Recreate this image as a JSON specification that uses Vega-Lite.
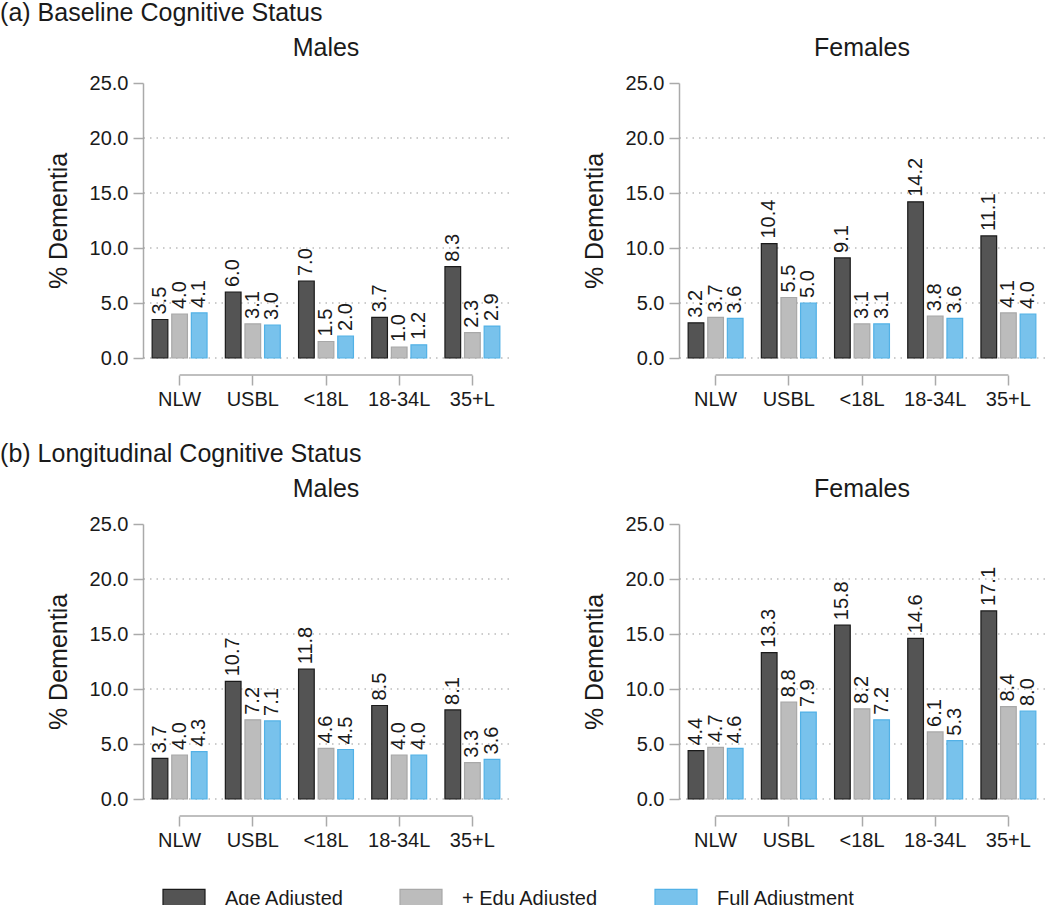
{
  "$schema": "https://vega.github.io/schema/vega-lite/v6.json",
  "padding": {"top": 1, "left": 0, "right": 0, "bottom": 0},
  "config": {
    "font": "Liberation Sans",
    "view": {"stroke": null},
    "axis": {"labelFontSize": 20, "labelColor": "#1a1a1a", "titleFontSize": 25, "titleFontWeight": "normal", "titleColor": "#1a1a1a", "domainColor": "#aaaaaa", "tickColor": "#aaaaaa", "grid": false, "domainWidth": 1.5, "tickWidth": 1.5},
    "title": {"fontSize": 25, "fontWeight": "normal", "color": "#1a1a1a"},
    "legend": {"title": null, "orient": "bottom", "offset": 37, "direction": "horizontal", "symbolType": "M-2,-0.9H2V0.9H-2Z", "symbolSize": 441, "symbolOffset": 29.5, "labelFontSize": 20, "labelColor": "#1a1a1a", "labelOffset": 29.5, "columnPadding": 36, "symbolStrokeWidth": 1.2, "padding": 0}
  },
  "datasets": {
    "grid": [{"g": 0}, {"g": 5}, {"g": 10}, {"g": 15}, {"g": 20}],
    "xline": [{"from": "NLW", "to": "35+L"}],
    "d": [
      {"section": "a", "sex": "Males", "group": "NLW", "adj": "Age Adjusted", "value": 3.5},
      {"section": "a", "sex": "Males", "group": "NLW", "adj": "+ Edu Adjusted", "value": 4.0},
      {"section": "a", "sex": "Males", "group": "NLW", "adj": "Full Adjustment", "value": 4.1},
      {"section": "a", "sex": "Males", "group": "USBL", "adj": "Age Adjusted", "value": 6.0},
      {"section": "a", "sex": "Males", "group": "USBL", "adj": "+ Edu Adjusted", "value": 3.1},
      {"section": "a", "sex": "Males", "group": "USBL", "adj": "Full Adjustment", "value": 3.0},
      {"section": "a", "sex": "Males", "group": "<18L", "adj": "Age Adjusted", "value": 7.0},
      {"section": "a", "sex": "Males", "group": "<18L", "adj": "+ Edu Adjusted", "value": 1.5},
      {"section": "a", "sex": "Males", "group": "<18L", "adj": "Full Adjustment", "value": 2.0},
      {"section": "a", "sex": "Males", "group": "18-34L", "adj": "Age Adjusted", "value": 3.7},
      {"section": "a", "sex": "Males", "group": "18-34L", "adj": "+ Edu Adjusted", "value": 1.0},
      {"section": "a", "sex": "Males", "group": "18-34L", "adj": "Full Adjustment", "value": 1.2},
      {"section": "a", "sex": "Males", "group": "35+L", "adj": "Age Adjusted", "value": 8.3},
      {"section": "a", "sex": "Males", "group": "35+L", "adj": "+ Edu Adjusted", "value": 2.3},
      {"section": "a", "sex": "Males", "group": "35+L", "adj": "Full Adjustment", "value": 2.9},
      {"section": "a", "sex": "Females", "group": "NLW", "adj": "Age Adjusted", "value": 3.2},
      {"section": "a", "sex": "Females", "group": "NLW", "adj": "+ Edu Adjusted", "value": 3.7},
      {"section": "a", "sex": "Females", "group": "NLW", "adj": "Full Adjustment", "value": 3.6},
      {"section": "a", "sex": "Females", "group": "USBL", "adj": "Age Adjusted", "value": 10.4},
      {"section": "a", "sex": "Females", "group": "USBL", "adj": "+ Edu Adjusted", "value": 5.5},
      {"section": "a", "sex": "Females", "group": "USBL", "adj": "Full Adjustment", "value": 5.0},
      {"section": "a", "sex": "Females", "group": "<18L", "adj": "Age Adjusted", "value": 9.1},
      {"section": "a", "sex": "Females", "group": "<18L", "adj": "+ Edu Adjusted", "value": 3.1},
      {"section": "a", "sex": "Females", "group": "<18L", "adj": "Full Adjustment", "value": 3.1},
      {"section": "a", "sex": "Females", "group": "18-34L", "adj": "Age Adjusted", "value": 14.2},
      {"section": "a", "sex": "Females", "group": "18-34L", "adj": "+ Edu Adjusted", "value": 3.8},
      {"section": "a", "sex": "Females", "group": "18-34L", "adj": "Full Adjustment", "value": 3.6},
      {"section": "a", "sex": "Females", "group": "35+L", "adj": "Age Adjusted", "value": 11.1},
      {"section": "a", "sex": "Females", "group": "35+L", "adj": "+ Edu Adjusted", "value": 4.1},
      {"section": "a", "sex": "Females", "group": "35+L", "adj": "Full Adjustment", "value": 4.0},
      {"section": "b", "sex": "Males", "group": "NLW", "adj": "Age Adjusted", "value": 3.7},
      {"section": "b", "sex": "Males", "group": "NLW", "adj": "+ Edu Adjusted", "value": 4.0},
      {"section": "b", "sex": "Males", "group": "NLW", "adj": "Full Adjustment", "value": 4.3},
      {"section": "b", "sex": "Males", "group": "USBL", "adj": "Age Adjusted", "value": 10.7},
      {"section": "b", "sex": "Males", "group": "USBL", "adj": "+ Edu Adjusted", "value": 7.2},
      {"section": "b", "sex": "Males", "group": "USBL", "adj": "Full Adjustment", "value": 7.1},
      {"section": "b", "sex": "Males", "group": "<18L", "adj": "Age Adjusted", "value": 11.8},
      {"section": "b", "sex": "Males", "group": "<18L", "adj": "+ Edu Adjusted", "value": 4.6},
      {"section": "b", "sex": "Males", "group": "<18L", "adj": "Full Adjustment", "value": 4.5},
      {"section": "b", "sex": "Males", "group": "18-34L", "adj": "Age Adjusted", "value": 8.5},
      {"section": "b", "sex": "Males", "group": "18-34L", "adj": "+ Edu Adjusted", "value": 4.0},
      {"section": "b", "sex": "Males", "group": "18-34L", "adj": "Full Adjustment", "value": 4.0},
      {"section": "b", "sex": "Males", "group": "35+L", "adj": "Age Adjusted", "value": 8.1},
      {"section": "b", "sex": "Males", "group": "35+L", "adj": "+ Edu Adjusted", "value": 3.3},
      {"section": "b", "sex": "Males", "group": "35+L", "adj": "Full Adjustment", "value": 3.6},
      {"section": "b", "sex": "Females", "group": "NLW", "adj": "Age Adjusted", "value": 4.4},
      {"section": "b", "sex": "Females", "group": "NLW", "adj": "+ Edu Adjusted", "value": 4.7},
      {"section": "b", "sex": "Females", "group": "NLW", "adj": "Full Adjustment", "value": 4.6},
      {"section": "b", "sex": "Females", "group": "USBL", "adj": "Age Adjusted", "value": 13.3},
      {"section": "b", "sex": "Females", "group": "USBL", "adj": "+ Edu Adjusted", "value": 8.8},
      {"section": "b", "sex": "Females", "group": "USBL", "adj": "Full Adjustment", "value": 7.9},
      {"section": "b", "sex": "Females", "group": "<18L", "adj": "Age Adjusted", "value": 15.8},
      {"section": "b", "sex": "Females", "group": "<18L", "adj": "+ Edu Adjusted", "value": 8.2},
      {"section": "b", "sex": "Females", "group": "<18L", "adj": "Full Adjustment", "value": 7.2},
      {"section": "b", "sex": "Females", "group": "18-34L", "adj": "Age Adjusted", "value": 14.6},
      {"section": "b", "sex": "Females", "group": "18-34L", "adj": "+ Edu Adjusted", "value": 6.1},
      {"section": "b", "sex": "Females", "group": "18-34L", "adj": "Full Adjustment", "value": 5.3},
      {"section": "b", "sex": "Females", "group": "35+L", "adj": "Age Adjusted", "value": 17.1},
      {"section": "b", "sex": "Females", "group": "35+L", "adj": "+ Edu Adjusted", "value": 8.4},
      {"section": "b", "sex": "Females", "group": "35+L", "adj": "Full Adjustment", "value": 8.0}
    ]
  },
  "spacing": 33,
  "vconcat": [
    {
      "title": {"text": "(a) Baseline Cognitive Status", "anchor": "start", "dx": -46, "offset": 10},
      "spacing": 72,
      "hconcat": [
        {
          "width": 366, "height": 275,
          "title": {"text": "Males", "offset": 12},
          "layer": [
            {"data": {"name": "grid"}, "mark": {"type": "rule", "strokeDash": [1.5, 5], "color": "#999999", "strokeWidth": 1.2},
             "encoding": {"y": {"field": "g", "type": "quantitative", "scale": {"domain": [0, 25], "padding": 0}, "axis": {"title": "% Dementia", "values": [0, 5, 10, 15, 20, 25], "format": ".1f", "tickSize": 10, "labelPadding": 5, "titlePadding": 18}}}},
            {"data": {"name": "d"}, "transform": [{"filter": "datum.section == 'a' && datum.sex == 'Males'"}],
             "mark": {"type": "bar", "strokeWidth": 1.2},
             "encoding": {
               "x": {"field": "group", "type": "nominal", "scale": {"domain": ["NLW", "USBL", "<18L", "18-34L", "35+L"], "paddingInner": 0.25, "paddingOuter": 0.125}, "axis": {"title": null, "labelAngle": 0, "domain": false, "offset": 17, "tickSize": 10, "labelPadding": 4}},
               "xOffset": {"field": "adj", "type": "nominal", "scale": {"domain": ["Age Adjusted", "+ Edu Adjusted", "Full Adjustment"], "paddingInner": 0.2}},
               "y": {"field": "value", "type": "quantitative", "title": "% Dementia", "scale": {"domain": [0, 25], "padding": 0}},
               "fill": {"field": "adj", "type": "nominal", "scale": {"domain": ["Age Adjusted", "+ Edu Adjusted", "Full Adjustment"], "range": ["#545454", "#bcbcbc", "#78c2ec"]}},
               "stroke": {"field": "adj", "type": "nominal", "scale": {"domain": ["Age Adjusted", "+ Edu Adjusted", "Full Adjustment"], "range": ["#1a1a1a", "#a8a8a8", "#52b1e6"]}}
             }},
            {"data": {"name": "d"}, "transform": [{"filter": "datum.section == 'a' && datum.sex == 'Males'"}],
             "mark": {"type": "text", "angle": 270, "align": "left", "baseline": "middle", "dx": 5, "fontSize": 20, "color": "#1a1a1a"},
             "encoding": {
               "x": {"field": "group", "type": "nominal"},
               "xOffset": {"field": "adj", "type": "nominal"},
               "y": {"field": "value", "type": "quantitative", "title": "% Dementia", "scale": {"domain": [0, 25], "padding": 0}},
               "text": {"field": "value", "type": "quantitative", "format": ".1f"}
             }},
            {"data": {"name": "xline"}, "mark": {"type": "rule", "color": "#aaaaaa", "strokeWidth": 1.5},
             "encoding": {
               "x": {"field": "from", "type": "nominal", "scale": {"domain": ["NLW", "USBL", "<18L", "18-34L", "35+L"]}},
               "x2": {"field": "to"},
               "y": {"datum": -1.55, "type": "quantitative", "title": "% Dementia", "scale": {"domain": [0, 25], "padding": 0}}
             }}
          ]
        },
        {
          "width": 366, "height": 275,
          "title": {"text": "Females", "offset": 12},
          "layer": [
            {"data": {"name": "grid"}, "mark": {"type": "rule", "strokeDash": [1.5, 5], "color": "#999999", "strokeWidth": 1.2},
             "encoding": {"y": {"field": "g", "type": "quantitative", "scale": {"domain": [0, 25], "padding": 0}, "axis": {"title": "% Dementia", "values": [0, 5, 10, 15, 20, 25], "format": ".1f", "tickSize": 10, "labelPadding": 5, "titlePadding": 18}}}},
            {"data": {"name": "d"}, "transform": [{"filter": "datum.section == 'a' && datum.sex == 'Females'"}],
             "mark": {"type": "bar", "strokeWidth": 1.2},
             "encoding": {
               "x": {"field": "group", "type": "nominal", "scale": {"domain": ["NLW", "USBL", "<18L", "18-34L", "35+L"], "paddingInner": 0.25, "paddingOuter": 0.125}, "axis": {"title": null, "labelAngle": 0, "domain": false, "offset": 17, "tickSize": 10, "labelPadding": 4}},
               "xOffset": {"field": "adj", "type": "nominal", "scale": {"domain": ["Age Adjusted", "+ Edu Adjusted", "Full Adjustment"], "paddingInner": 0.2}},
               "y": {"field": "value", "type": "quantitative", "title": "% Dementia", "scale": {"domain": [0, 25], "padding": 0}},
               "fill": {"field": "adj", "type": "nominal", "scale": {"domain": ["Age Adjusted", "+ Edu Adjusted", "Full Adjustment"], "range": ["#545454", "#bcbcbc", "#78c2ec"]}},
               "stroke": {"field": "adj", "type": "nominal", "scale": {"domain": ["Age Adjusted", "+ Edu Adjusted", "Full Adjustment"], "range": ["#1a1a1a", "#a8a8a8", "#52b1e6"]}}
             }},
            {"data": {"name": "d"}, "transform": [{"filter": "datum.section == 'a' && datum.sex == 'Females'"}],
             "mark": {"type": "text", "angle": 270, "align": "left", "baseline": "middle", "dx": 5, "fontSize": 20, "color": "#1a1a1a"},
             "encoding": {
               "x": {"field": "group", "type": "nominal"},
               "xOffset": {"field": "adj", "type": "nominal"},
               "y": {"field": "value", "type": "quantitative", "title": "% Dementia", "scale": {"domain": [0, 25], "padding": 0}},
               "text": {"field": "value", "type": "quantitative", "format": ".1f"}
             }},
            {"data": {"name": "xline"}, "mark": {"type": "rule", "color": "#aaaaaa", "strokeWidth": 1.5},
             "encoding": {
               "x": {"field": "from", "type": "nominal", "scale": {"domain": ["NLW", "USBL", "<18L", "18-34L", "35+L"]}},
               "x2": {"field": "to"},
               "y": {"datum": -1.55, "type": "quantitative", "title": "% Dementia", "scale": {"domain": [0, 25], "padding": 0}}
             }}
          ]
        }
      ]
    },
    {
      "title": {"text": "(b) Longitudinal Cognitive Status", "anchor": "start", "dx": -46, "offset": 10},
      "spacing": 72,
      "hconcat": [
        {
          "width": 366, "height": 275,
          "title": {"text": "Males", "offset": 12},
          "layer": [
            {"data": {"name": "grid"}, "mark": {"type": "rule", "strokeDash": [1.5, 5], "color": "#999999", "strokeWidth": 1.2},
             "encoding": {"y": {"field": "g", "type": "quantitative", "scale": {"domain": [0, 25], "padding": 0}, "axis": {"title": "% Dementia", "values": [0, 5, 10, 15, 20, 25], "format": ".1f", "tickSize": 10, "labelPadding": 5, "titlePadding": 18}}}},
            {"data": {"name": "d"}, "transform": [{"filter": "datum.section == 'b' && datum.sex == 'Males'"}],
             "mark": {"type": "bar", "strokeWidth": 1.2},
             "encoding": {
               "x": {"field": "group", "type": "nominal", "scale": {"domain": ["NLW", "USBL", "<18L", "18-34L", "35+L"], "paddingInner": 0.25, "paddingOuter": 0.125}, "axis": {"title": null, "labelAngle": 0, "domain": false, "offset": 17, "tickSize": 10, "labelPadding": 4}},
               "xOffset": {"field": "adj", "type": "nominal", "scale": {"domain": ["Age Adjusted", "+ Edu Adjusted", "Full Adjustment"], "paddingInner": 0.2}},
               "y": {"field": "value", "type": "quantitative", "title": "% Dementia", "scale": {"domain": [0, 25], "padding": 0}},
               "fill": {"field": "adj", "type": "nominal", "scale": {"domain": ["Age Adjusted", "+ Edu Adjusted", "Full Adjustment"], "range": ["#545454", "#bcbcbc", "#78c2ec"]}},
               "stroke": {"field": "adj", "type": "nominal", "scale": {"domain": ["Age Adjusted", "+ Edu Adjusted", "Full Adjustment"], "range": ["#1a1a1a", "#a8a8a8", "#52b1e6"]}}
             }},
            {"data": {"name": "d"}, "transform": [{"filter": "datum.section == 'b' && datum.sex == 'Males'"}],
             "mark": {"type": "text", "angle": 270, "align": "left", "baseline": "middle", "dx": 5, "fontSize": 20, "color": "#1a1a1a"},
             "encoding": {
               "x": {"field": "group", "type": "nominal"},
               "xOffset": {"field": "adj", "type": "nominal"},
               "y": {"field": "value", "type": "quantitative", "title": "% Dementia", "scale": {"domain": [0, 25], "padding": 0}},
               "text": {"field": "value", "type": "quantitative", "format": ".1f"}
             }},
            {"data": {"name": "xline"}, "mark": {"type": "rule", "color": "#aaaaaa", "strokeWidth": 1.5},
             "encoding": {
               "x": {"field": "from", "type": "nominal", "scale": {"domain": ["NLW", "USBL", "<18L", "18-34L", "35+L"]}},
               "x2": {"field": "to"},
               "y": {"datum": -1.55, "type": "quantitative", "title": "% Dementia", "scale": {"domain": [0, 25], "padding": 0}}
             }}
          ]
        },
        {
          "width": 366, "height": 275,
          "title": {"text": "Females", "offset": 12},
          "layer": [
            {"data": {"name": "grid"}, "mark": {"type": "rule", "strokeDash": [1.5, 5], "color": "#999999", "strokeWidth": 1.2},
             "encoding": {"y": {"field": "g", "type": "quantitative", "scale": {"domain": [0, 25], "padding": 0}, "axis": {"title": "% Dementia", "values": [0, 5, 10, 15, 20, 25], "format": ".1f", "tickSize": 10, "labelPadding": 5, "titlePadding": 18}}}},
            {"data": {"name": "d"}, "transform": [{"filter": "datum.section == 'b' && datum.sex == 'Females'"}],
             "mark": {"type": "bar", "strokeWidth": 1.2},
             "encoding": {
               "x": {"field": "group", "type": "nominal", "scale": {"domain": ["NLW", "USBL", "<18L", "18-34L", "35+L"], "paddingInner": 0.25, "paddingOuter": 0.125}, "axis": {"title": null, "labelAngle": 0, "domain": false, "offset": 17, "tickSize": 10, "labelPadding": 4}},
               "xOffset": {"field": "adj", "type": "nominal", "scale": {"domain": ["Age Adjusted", "+ Edu Adjusted", "Full Adjustment"], "paddingInner": 0.2}},
               "y": {"field": "value", "type": "quantitative", "title": "% Dementia", "scale": {"domain": [0, 25], "padding": 0}},
               "fill": {"field": "adj", "type": "nominal", "scale": {"domain": ["Age Adjusted", "+ Edu Adjusted", "Full Adjustment"], "range": ["#545454", "#bcbcbc", "#78c2ec"]}},
               "stroke": {"field": "adj", "type": "nominal", "scale": {"domain": ["Age Adjusted", "+ Edu Adjusted", "Full Adjustment"], "range": ["#1a1a1a", "#a8a8a8", "#52b1e6"]}}
             }},
            {"data": {"name": "d"}, "transform": [{"filter": "datum.section == 'b' && datum.sex == 'Females'"}],
             "mark": {"type": "text", "angle": 270, "align": "left", "baseline": "middle", "dx": 5, "fontSize": 20, "color": "#1a1a1a"},
             "encoding": {
               "x": {"field": "group", "type": "nominal"},
               "xOffset": {"field": "adj", "type": "nominal"},
               "y": {"field": "value", "type": "quantitative", "title": "% Dementia", "scale": {"domain": [0, 25], "padding": 0}},
               "text": {"field": "value", "type": "quantitative", "format": ".1f"}
             }},
            {"data": {"name": "xline"}, "mark": {"type": "rule", "color": "#aaaaaa", "strokeWidth": 1.5},
             "encoding": {
               "x": {"field": "from", "type": "nominal", "scale": {"domain": ["NLW", "USBL", "<18L", "18-34L", "35+L"]}},
               "x2": {"field": "to"},
               "y": {"datum": -1.55, "type": "quantitative", "title": "% Dementia", "scale": {"domain": [0, 25], "padding": 0}}
             }}
          ]
        }
      ]
    }
  ]
}
